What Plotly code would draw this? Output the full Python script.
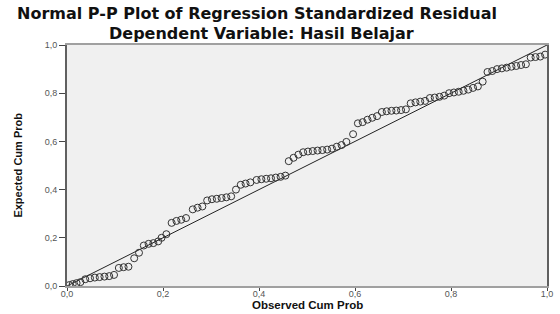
import plotly.graph_objects as go

# Observed cumulative probability (x) and expected cumulative probability (y)
observed_cum_prob = [
    0.005, 0.012, 0.020, 0.028,
    0.038, 0.048, 0.058, 0.068, 0.078, 0.088, 0.098,
    0.108, 0.118, 0.128,
    0.140, 0.150,
    0.160, 0.170, 0.180, 0.190, 0.197, 0.207,
    0.218, 0.228, 0.238, 0.248,
    0.262, 0.272, 0.282,
    0.292, 0.302, 0.312, 0.322, 0.332, 0.342,
    0.352,
    0.362, 0.372, 0.382,
    0.395, 0.405, 0.415, 0.425, 0.435, 0.445, 0.455,
    0.462, 0.472, 0.482,
    0.492, 0.502, 0.512, 0.522, 0.532, 0.542, 0.552,
    0.562, 0.572, 0.582,
    0.596,
    0.606, 0.616, 0.626, 0.636, 0.646, 0.656, 0.666, 0.676, 0.686, 0.696, 0.706,
    0.716, 0.726, 0.736, 0.746,
    0.756, 0.766, 0.776, 0.786,
    0.796, 0.806, 0.816, 0.826, 0.836, 0.846, 0.856,
    0.866,
    0.876, 0.886,
    0.896, 0.906, 0.916, 0.926, 0.936, 0.946, 0.956,
    0.966, 0.976, 0.986, 0.996,
]
expected_cum_prob = [
    0.004, 0.008, 0.012, 0.016,
    0.028, 0.032, 0.035, 0.037, 0.039, 0.041, 0.046,
    0.075, 0.078, 0.080,
    0.115, 0.138,
    0.168, 0.175, 0.178, 0.185, 0.200, 0.215,
    0.262, 0.270, 0.275, 0.282,
    0.318, 0.325, 0.330,
    0.355, 0.360, 0.362, 0.365, 0.368, 0.372,
    0.400,
    0.420, 0.425, 0.430,
    0.440, 0.443, 0.445, 0.447, 0.450, 0.453, 0.458,
    0.518, 0.532, 0.545,
    0.555, 0.558, 0.560, 0.562, 0.564, 0.566, 0.570,
    0.578, 0.585, 0.598,
    0.630,
    0.675, 0.680, 0.690, 0.698, 0.705, 0.722, 0.725, 0.727, 0.728, 0.730, 0.733,
    0.758, 0.762, 0.765, 0.768,
    0.780, 0.782, 0.785, 0.790,
    0.800, 0.803, 0.806, 0.810, 0.815, 0.822, 0.828,
    0.848,
    0.888, 0.892,
    0.900, 0.903, 0.906, 0.910, 0.913, 0.917, 0.920,
    0.948, 0.950, 0.952, 0.960,
]
tick_values = [0.0, 0.2, 0.4, 0.6, 0.8, 1.0]
tick_labels = ["0,0", "0,2", "0,4", "0,6", "0,8", "1,0"]
reference_line = [0.0, 1.0]

title_line1 = "Normal P-P Plot of Regression Standardized Residual"
title_line2 = "Dependent Variable: Hasil Belajar"
x_title = "Observed Cum Prob"
y_title = "Expected Cum Prob"

fig = go.Figure()
fig.add_trace(go.Scatter(
    x=reference_line, y=reference_line, mode="lines",
    line=dict(color="#222222", width=1), hoverinfo="skip", showlegend=False,
))
fig.add_trace(go.Scatter(
    x=observed_cum_prob, y=expected_cum_prob, mode="markers",
    marker=dict(symbol="circle-open", size=7, color="#333333",
                line=dict(color="#333333", width=1)),
    showlegend=False,
))

tickfont = dict(family="Liberation Sans, Arial, sans-serif", size=9, color="#555555")
fig.update_xaxes(
    range=[0, 1], tickvals=tick_values, ticktext=tick_labels, automargin=False,
    showgrid=False, zeroline=False, showline=True, linecolor="#a0a0a0",
    linewidth=2, mirror=True, ticks="outside", ticklen=3, tickcolor="#444444",
    tickwidth=1, tickfont=tickfont, ticklabelstandoff=-5,
)
fig.update_yaxes(
    range=[0, 1], tickvals=tick_values, ticktext=tick_labels, automargin=False,
    showgrid=False, zeroline=False, showline=True, linecolor="#606060",
    linewidth=2, mirror=True, ticks="outside", ticklen=6, tickcolor="#444444",
    tickwidth=1, tickfont=tickfont,
)

title_font = dict(family="DejaVu Sans, sans-serif", size=16, color="#111111")
fig.update_layout(
    template="none",
    width=560, height=314,
    margin=dict(l=67, r=13, t=45, b=28),
    paper_bgcolor="white", plot_bgcolor="#f0f0f0",
    annotations=[
        dict(text="<b>" + title_line1 + "</b>", xref="paper", yref="paper",
             x=0.395, y=1.129, showarrow=False, font=title_font,
             xanchor="center", yanchor="middle"),
        dict(text="<b>" + title_line2 + "</b>", xref="paper", yref="paper",
             x=0.405, y=1.048, showarrow=False, font=title_font,
             xanchor="center", yanchor="middle"),
        dict(text="<b>" + x_title + "</b>", xref="paper", yref="paper",
             x=0.5, y=-0.079, showarrow=False,
             font=dict(family="Liberation Sans, Arial, sans-serif", size=11.5, color="#111111"),
             xanchor="center", yanchor="middle"),
        dict(text="<b>" + y_title + "</b>", xref="paper", yref="paper",
             x=-0.104, y=0.50, showarrow=False, textangle=-90,
             font=dict(family="Liberation Sans Narrow, Liberation Sans, Arial, sans-serif",
                       size=11, color="#111111"),
             xanchor="center", yanchor="middle"),
    ],
)

fig.write_html(
    "out.html",
    config={"displayModeBar": False},
    post_script="document.body.style.margin='0px';document.body.style.overflow='hidden';",
)
